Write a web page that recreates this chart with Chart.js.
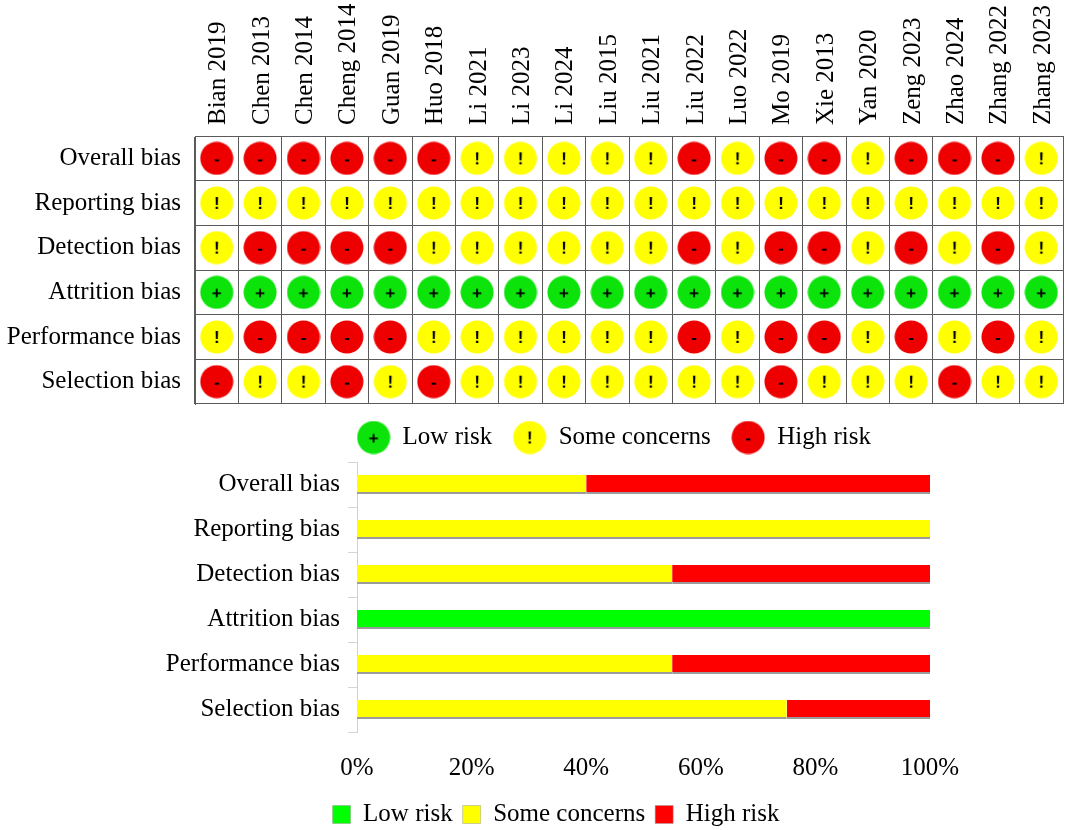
<!DOCTYPE html>
<html>
<head>
<meta charset="utf-8">
<script src="https://cdn.jsdelivr.net/npm/chart.js@4.4.1/dist/chart.umd.min.js"></script>
<style>
  html, body { margin: 0; padding: 0; background: #fff; }
  body { width: 1065px; height: 830px; position: relative; overflow: hidden; }
  #gridChart { position: absolute; left: 0; top: 0; }
  #barChart { position: absolute; left: 47px; top: 450px; }
</style>
</head>
<body>
<canvas id="gridChart" width="1228" height="460"></canvas>
<canvas id="barChart" width="1018" height="387"></canvas>
<script>
var studies = ["Bian 2019", "Chen 2013", "Chen 2014", "Cheng 2014", "Guan 2019", "Huo 2018",
    "Li 2021", "Li 2023", "Li 2024", "Liu 2015", "Liu 2021", "Liu 2022", "Luo 2022", "Mo 2019",
    "Xie 2013", "Yan 2020", "Zeng 2023", "Zhao 2024", "Zhang 2022", "Zhang 2023"];
var domains = ["Overall bias", "Reporting bias", "Detection bias", "Attrition bias",
    "Performance bias", "Selection bias"];

// L = low risk, S = some concerns, H = high risk (one entry per study)
var overallBias     = ["H","H","H","H","H","H","S","S","S","S","S","H","S","H","H","S","H","H","H","S"];
var reportingBias   = ["S","S","S","S","S","S","S","S","S","S","S","S","S","S","S","S","S","S","S","S"];
var detectionBias   = ["S","H","H","H","H","S","S","S","S","S","S","H","S","H","H","S","H","S","H","S"];
var attritionBias   = ["L","L","L","L","L","L","L","L","L","L","L","L","L","L","L","L","L","L","L","L"];
var performanceBias = ["S","H","H","H","H","S","S","S","S","S","S","H","S","H","H","S","H","S","H","S"];
var selectionBias   = ["H","S","S","H","S","H","S","S","S","S","S","S","S","H","S","S","S","H","S","S"];
var judgements = [overallBias, reportingBias, detectionBias, attritionBias, performanceBias, selectionBias];

// summary bars (percent of studies), same domain order
var lowRisk      = [0, 0, 0, 100, 0, 0];
var someConcerns = [40, 100, 55, 0, 55, 75];
var highRisk     = [60, 0, 45, 0, 45, 25];
var percentTicks = [0, 20, 40, 60, 80, 100];

Chart.defaults.font.family = "'Liberation Serif', 'Times New Roman', serif";
Chart.defaults.font.size = 25;
Chart.defaults.color = "#000";

function makeIcon(fill, symbol) {
    var c = document.createElement("canvas");
    c.width = 34;
    c.height = 34;
    var g = c.getContext("2d");
    g.fillStyle = fill;
    g.beginPath();
    g.arc(17, 17, 16.5, 0, Math.PI * 2);
    g.fill();
    g.fillStyle = "#000";
    g.font = "bold 17px 'Liberation Sans'";
    g.textAlign = "center";
    g.textBaseline = "middle";
    g.fillText(symbol, 17, 18);
    return c;
}

function pointsFor(level) {
    var pts = [];
    domains.forEach(function (d, r) {
        judgements[r].forEach(function (j, c) {
            if (j === level) pts.push({ x: studies[c], y: d });
        });
    });
    return pts;
}

var gridColor = "#5a5a5a";

// canvas runs past the page edge; the extra right padding keeps the grid
// ending at the page edge while the legend centres where the original has it
new Chart(document.getElementById("gridChart"), {
    type: "scatter",
    data: {
        datasets: [
            { label: "Low risk", data: pointsFor("L"), pointStyle: makeIcon("#0be30b", "+"), pointRadius: 16 },
            { label: "Some concerns", data: pointsFor("S"), pointStyle: makeIcon("#ffff00", "!"), pointRadius: 16 },
            { label: "High risk", data: pointsFor("H"), pointStyle: makeIcon("#ee0000", "-"), pointRadius: 16 },
        ],
    },
    options: {
        responsive: false,
        animation: false,
        events: [],
        scales: {
            x: {
                type: "category",
                labels: studies,
                position: "top",
                offset: true,
                grid: { offset: true, color: gridColor, drawTicks: false },
                border: { color: gridColor },
                ticks: { minRotation: 90, maxRotation: 90, autoSkip: false, padding: 11, labelOffset: 32 },
                afterFit: function (s) {
                    s.height = 136;
                    s.paddingRight = 165;
                },
            },
            y: {
                type: "category",
                labels: domains,
                offset: true,
                grid: { offset: true, color: gridColor, drawTicks: false },
                border: { color: gridColor },
                ticks: { padding: 14 },
                afterFit: function (s) {
                    s.width = 195;
                    s.paddingTop = 0;
                    s.paddingBottom = 0;
                },
            },
        },
        plugins: {
            tooltip: { enabled: false },
            legend: {
                position: "bottom",
                labels: { usePointStyle: true, pointStyleWidth: 33, padding: 21 },
            },
        },
    },
});

var shadow = { top: 0, left: 0, right: 0, bottom: 2 };

new Chart(document.getElementById("barChart"), {
    type: "bar",
    data: {
        labels: domains,
        datasets: [
            { label: "Low risk", data: lowRisk, backgroundColor: "#00ff00" },
            { label: "Some concerns", data: someConcerns, backgroundColor: "#ffff00" },
            { label: "High risk", data: highRisk, backgroundColor: "#ff0000" },
        ],
    },
    options: {
        indexAxis: "y",
        responsive: false,
        animation: false,
        events: [],
        layout: { padding: { top: 12 } },
        datasets: {
            bar: {
                categoryPercentage: 1,
                barPercentage: 0.424,
                borderWidth: shadow,
                borderColor: "#9b9b9b",
                borderSkipped: false,
            },
        },
        scales: {
            x: {
                stacked: true,
                min: 0,
                max: 100,
                grid: { display: false },
                border: { display: false },
                afterBuildTicks: function (s) {
                    s.ticks = percentTicks.map(function (v) { return { value: v }; });
                },
                ticks: {
                    padding: 13,
                    callback: function (v) { return v + "%"; },
                },
                afterFit: function (s) {
                    s.height = 60;
                    s.paddingLeft = 0;
                    s.paddingRight = 135;
                },
            },
            y: {
                stacked: true,
                offset: true,
                grid: { offset: true, drawOnChartArea: false, tickLength: 9, color: "#d6d6d6" },
                border: { color: "#d0d0d0" },
                ticks: { padding: 8 },
                afterFit: function (s) {
                    s.width = 310;
                    s.paddingTop = 0;
                    s.paddingBottom = 0;
                },
            },
        },
        plugins: {
            tooltip: { enabled: false },
            legend: {
                position: "bottom",
                labels: { boxWidth: 18, boxHeight: 18, padding: 10 },
            },
        },
    },
});
</script>
</body>
</html>
